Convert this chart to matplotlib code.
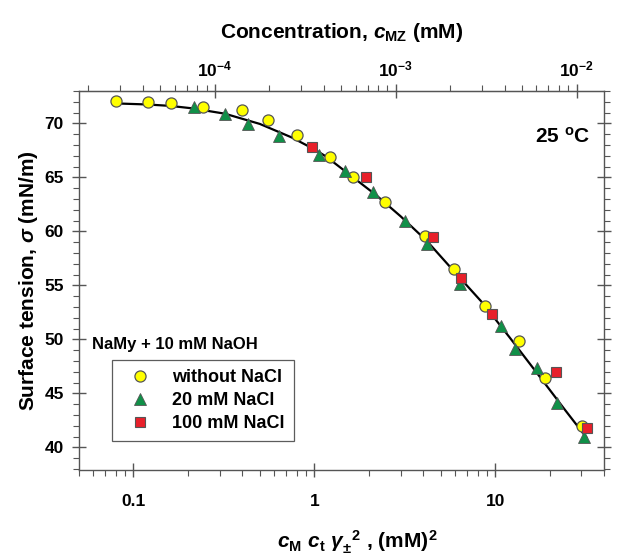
import numpy as np
import matplotlib
matplotlib.use("Agg")
import matplotlib.pyplot as plt
from matplotlib.ticker import LogLocator, MultipleLocator, NullFormatter

plt.rcParams['font.family'] = ['Liberation Sans', 'DejaVu Sans']
plt.rcParams['font.weight'] = 'bold'
plt.rcParams['mathtext.fontset'] = 'custom'
plt.rcParams['mathtext.rm'] = 'Liberation Sans:bold'
plt.rcParams['mathtext.bf'] = 'Liberation Sans:bold'
plt.rcParams['mathtext.it'] = 'Liberation Sans:italic:bold'

# ---- data (x: cM ct gamma^2 in mM^2, y: surface tension mN/m) ----
x_none = [0.080, 0.120, 0.161, 0.243, 0.398, 0.558, 0.80, 1.22, 1.63, 2.47, 4.12, 5.89, 8.75, 13.55, 18.8, 30.3]
y_none = [72.06, 72.0, 71.9, 71.56, 71.2, 70.27, 68.97, 66.87, 65.08, 62.68, 59.6, 56.5, 53.05, 49.83, 46.41, 41.94]

x_20 = [0.215, 0.32, 0.43, 0.637, 1.066, 1.485, 2.12, 3.19, 4.21, 6.39, 10.8, 12.94, 17.1, 22.0, 30.9]
y_20 = [71.56, 70.9, 69.96, 68.8, 67.1, 65.6, 63.6, 60.95, 58.8, 55.15, 51.2, 49.06, 47.37, 44.1, 40.95]

x_100 = [0.97, 1.94, 4.52, 6.47, 9.65, 21.6, 32.3]
y_100 = [67.8, 65.07, 59.46, 55.7, 52.37, 46.96, 41.75]

# fitted theoretical curve
x_fit = [0.08, 0.12, 0.16, 0.21, 0.32, 0.5, 0.75, 1.0, 1.16, 1.7, 2.2, 3.0, 4.2, 6.0, 8.5, 12, 17, 24, 32]
y_fit = [71.85, 71.75, 71.62, 71.4, 70.9, 69.95, 68.7, 67.6, 66.94, 64.8, 63.35, 61.4, 59.1, 56.2, 53.4, 50.2, 46.9, 43.6, 40.9]

x_ticks = [0.1, 1, 10]
x_ticklabels = ['0.1', '1', '10']
top_ticks = [1e-4, 1e-3, 1e-2]
top_ticklabels = ['10$^{\\mathbf{-4}}$', '10$^{\\mathbf{-3}}$', '10$^{\\mathbf{-2}}$']
y_ticks = [40, 45, 50, 55, 60, 65, 70]
offset = 10 ** -3.45  # c_MZ = offset * x

W, H = 621, 555
fig = plt.figure(figsize=(W / 100, H / 100), dpi=100)
ax = fig.add_axes([79 / W, (H - 470) / H, 525 / W, 379 / H])

spine_c = '#555555'
ax.plot(x_fit, y_fit, color='black', lw=1.6, zorder=2)
ax.plot(x_none, y_none, 'o', ms=8, mfc='#ffff00', mec='#555555', mew=0.9, ls='none', zorder=3, label='without NaCl')
ax.plot(x_20, y_20, '^', ms=8, mfc='#109048', mec='#555555', mew=0.6, ls='none', zorder=3, label='20 mM NaCl')
ax.plot(x_100, y_100, 's', ms=7, mfc='#e8202a', mec='#555555', mew=0.8, ls='none', zorder=4, label='100 mM NaCl')

ax.set_xscale('log')
ax.set_xlim(0.05, 40)
ax.set_ylim(37.9, 73.0)

for s in ax.spines.values():
    s.set_color(spine_c)
    s.set_linewidth(1.0)

ax.set_xticks(x_ticks)
ax.set_xticklabels(x_ticklabels)
ax.xaxis.set_minor_locator(LogLocator(base=10, subs=np.arange(2, 10)))
ax.xaxis.set_minor_formatter(NullFormatter())
ax.set_yticks(y_ticks)
ax.yaxis.set_minor_locator(MultipleLocator(1))
ax.yaxis.set_ticks_position('both')
ax.tick_params(axis='both', which='major', direction='inout', length=10, width=1.0, color=spine_c, labelsize=12.5, pad=6)
ax.tick_params(axis='both', which='minor', direction='out', length=4, width=0.8, color=spine_c)
ax.tick_params(axis='x', which='major', pad=12)
ax.tick_params(axis='y', which='both', labelright=False)

sec = ax.secondary_xaxis('top', functions=(lambda v: v * offset, lambda v: v / offset))
sec.set_xticks(top_ticks)
sec.set_xticklabels(top_ticklabels)
sec.xaxis.set_minor_locator(LogLocator(base=10, subs=np.arange(2, 10)))
sec.xaxis.set_minor_formatter(NullFormatter())
sec.spines['top'].set_color(spine_c)
sec.tick_params(axis='x', which='major', direction='inout', length=10, width=1.0, color=spine_c, labelsize=12.5, pad=3)
sec.tick_params(axis='x', which='minor', direction='out', length=4, width=0.8, color=spine_c)

ax.set_ylabel('Surface tension, $\\sigma$ (mN/m)', fontsize=15, fontweight='bold', labelpad=3)
ax.set_xlabel('$c_{\\mathbf{M}}\\ c_{\\mathbf{t}}\\ \\gamma_{\\pm}^{\\ \\ 2}$ , (mM)$^{\\mathbf{2}}$', fontsize=15, fontweight='bold', labelpad=10)
ax.xaxis.set_label_coords(0.53, -0.155)
sec.set_xlabel('Concentration, $c_{\\mathbf{MZ}}$ (mM)', fontsize=15, fontweight='bold', labelpad=16)

ax.text(0.973, 0.879, '25 $^{\\mathbf{o}}$C', transform=ax.transAxes, ha='right', va='center', fontsize=15, fontweight='bold')

ax.text(0.025, 0.33, 'NaMy + 10 mM NaOH', transform=ax.transAxes, ha='left', va='center', fontsize=12, fontweight='bold')
leg = ax.legend(loc='lower left', bbox_to_anchor=(0.0623, 0.0765), frameon=True, fancybox=False,
                edgecolor='#333333', fontsize=13, handletextpad=0.68, borderpad=0.5,
                labelspacing=0.32, handlelength=2.18, borderaxespad=0)
leg.get_frame().set_linewidth(0.9)
for t in leg.get_texts():
    t.set_fontweight('bold')

fig.savefig('out.png', dpi=100)
